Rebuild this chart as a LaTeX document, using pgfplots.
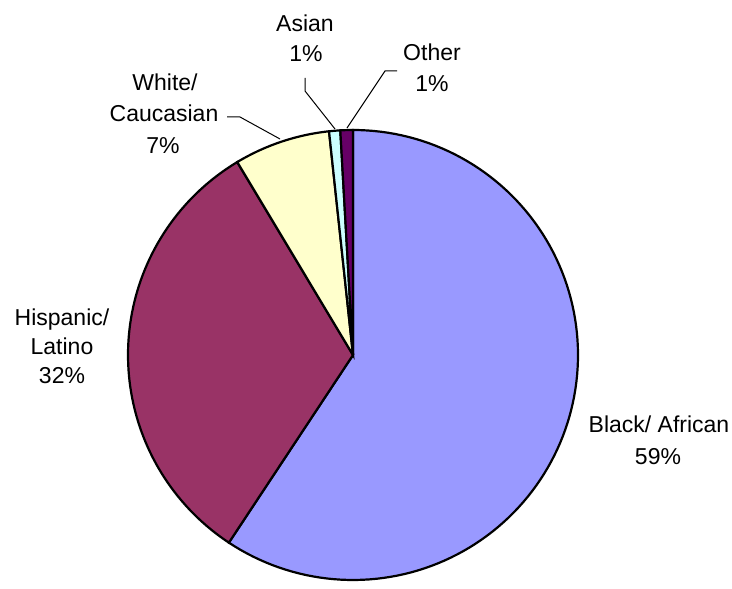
\documentclass[border=0pt]{standalone}
\usepackage{pgfplots}
\pgfplotsset{compat=1.18}
\usepackage{fontspec}
\setmainfont{Liberation Sans}
\definecolor{cBlack}{HTML}{9999FF}
\definecolor{cHisp}{HTML}{993366}
\definecolor{cWhite}{HTML}{FFFFCC}
\definecolor{cAsian}{HTML}{CCFFFF}
\definecolor{cOther}{HTML}{660066}
% shares in percent
\def\vBlack{59.3}
\def\vHisp{32.1}
\def\vWhite{6.9}
\def\vAsian{0.8}
\def\vOther{0.9}
\pgfmathsetmacro\aA{90}
\pgfmathsetmacro\aB{\aA-3.6*\vBlack}
\pgfmathsetmacro\aC{\aB-3.6*\vHisp}
\pgfmathsetmacro\aD{\aC-3.6*\vWhite}
\pgfmathsetmacro\aE{\aD-3.6*\vAsian}
\pgfmathsetmacro\aF{\aE-3.6*\vOther}
\def\cx{353}
\def\cy{233}
\def\rr{225}
\tikzset{lbl/.style={font=\fontsize{11.5}{14}\selectfont, anchor=base, inner sep=0pt}}
\begin{document}
\begin{tikzpicture}
\begin{axis}[hide axis, scale only axis, width=366pt, height=294pt,
  xmin=0, xmax=732, ymin=0, ymax=588, clip=false]
\coordinate (LL) at (axis cs:0,0);
\coordinate (UR) at (axis cs:732,588);
\addplot[fill=cBlack, draw=black, line width=1.1pt, domain=\aB:\aA, samples=120, variable=\t]
  ({\cx+\rr*cos(\t)},{\cy+\rr*sin(\t)}) -- (axis cs:\cx,\cy) -- cycle;
\addplot[fill=cHisp, draw=black, line width=1.1pt, domain=\aC:\aB, samples=80, variable=\t]
  ({\cx+\rr*cos(\t)},{\cy+\rr*sin(\t)}) -- (axis cs:\cx,\cy) -- cycle;
\addplot[fill=cWhite, draw=black, line width=1.1pt, domain=\aD:\aC, samples=30, variable=\t]
  ({\cx+\rr*cos(\t)},{\cy+\rr*sin(\t)}) -- (axis cs:\cx,\cy) -- cycle;
\addplot[fill=cAsian, draw=black, line width=1.1pt, domain=\aE:\aD, samples=5, variable=\t]
  ({\cx+\rr*cos(\t)},{\cy+\rr*sin(\t)}) -- (axis cs:\cx,\cy) -- cycle;
\addplot[fill=cOther, draw=black, line width=1.1pt, domain=\aF:\aE, samples=5, variable=\t]
  ({\cx+\rr*cos(\t)},{\cy+\rr*sin(\t)}) -- (axis cs:\cx,\cy) -- cycle;
% leader lines
\draw[line width=0.5pt] (axis cs:227,471) -- (axis cs:240,471) -- (axis cs:280,449);
\draw[line width=0.5pt] (axis cs:305,510) -- (axis cs:305,497) -- (axis cs:335,459);
\draw[line width=0.5pt] (axis cs:397,517) -- (axis cs:385,517) -- (axis cs:347,460);
% labels
\node[lbl] at (axis cs:305,556) {Asian};
\node[lbl] at (axis cs:306,526) {1\%};
\node[lbl] at (axis cs:432,527) {Other};
\node[lbl] at (axis cs:432,496) {1\%};
\node[lbl] at (axis cs:165,497) {White/};
\node[lbl] at (axis cs:164,466) {Caucasian};
\node[lbl] at (axis cs:163,434) {7\%};
\node[lbl] at (axis cs:62,262) {Hispanic/};
\node[lbl] at (axis cs:62,233) {Latino};
\node[lbl] at (axis cs:62,204) {32\%};
\node[lbl] at (axis cs:659,155) {Black/ African};
\node[lbl] at (axis cs:658,123) {59\%};
\end{axis}
\pgfresetboundingbox
\path[use as bounding box] (LL) rectangle (UR);
\end{tikzpicture}
\end{document}
